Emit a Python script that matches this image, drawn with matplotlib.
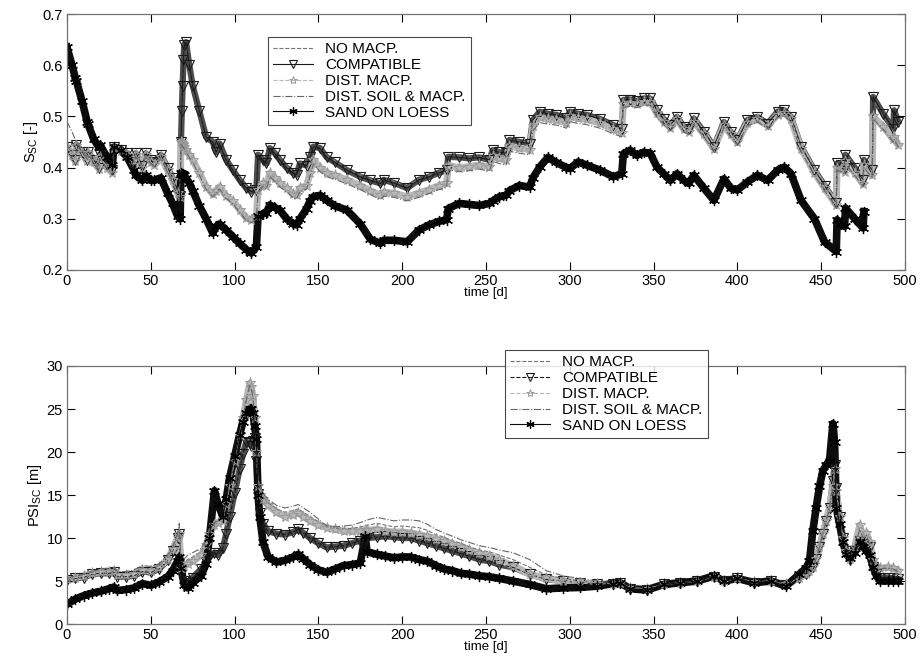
import numpy as np
import matplotlib
matplotlib.use('Agg')
import matplotlib.pyplot as plt

nan = np.nan

# ---- top panel: S_sc [-] ----
t_top = [0, 3, 5, 5.5, 9, 12, 12.5, 16, 19, 19.5,
         24, 27, 28, 32, 36, 40, 41, 45, 47, 50,
         52, 56, 60, 63, 66, 67.5, 68, 68.5, 69, 69.5,
         70, 71, 73, 75, 79, 83, 87, 89, 91, 95,
         99, 103, 107, 110, 113, 114, 117, 119, 121, 124,
         127, 131, 135, 137, 139, 143, 145, 147, 151, 155,
         160, 167, 175, 181, 187, 189, 195, 203, 210, 216,
         222, 226.5, 227.5, 234, 240, 246, 252, 254, 258, 262,
         264, 270, 276, 278, 282, 287, 292, 298, 300, 305,
         310, 318, 326, 331, 332, 336, 340, 344, 348, 352,
         356, 360, 364, 368, 371, 374, 380, 386, 392, 396,
         400, 406, 412, 418, 424, 428, 432, 438, 446, 452,
         459, 459.5, 462, 464, 464.5, 470, 475, 475.5, 480.5, 481,
         487, 493, 493.5, 496]

s_nomacp = [0.445, 0.43, 0.42, 0.445, 0.432, 0.418, 0.432, 0.418, 0.403, 0.427,
            0.408, 0.398, 0.44, 0.436, 0.43, 0.413, 0.43, 0.406, 0.43, 0.418,
            0.413, 0.427, 0.403, 0.383, 0.358, 0.348, 0.45, 0.50, 0.55, 0.60,
            0.63, 0.64, 0.598, 0.558, 0.508, 0.462, 0.452, 0.433, 0.448, 0.418,
            0.398, 0.38, 0.364, 0.357, 0.36, 0.427, 0.418, 0.41, 0.44, 0.43,
            0.418, 0.403, 0.392, 0.389, 0.41, 0.407, 0.422, 0.443, 0.44, 0.423,
            0.413, 0.398, 0.385, 0.378, 0.372, 0.378, 0.373, 0.363, 0.378, 0.385,
            0.392, 0.398, 0.423, 0.422, 0.42, 0.422, 0.418, 0.436, 0.432, 0.43,
            0.455, 0.452, 0.449, 0.494, 0.51, 0.506, 0.504, 0.498, 0.51, 0.506,
            0.504, 0.497, 0.485, 0.478, 0.533, 0.534, 0.531, 0.536, 0.536, 0.514,
            0.497, 0.485, 0.5, 0.482, 0.477, 0.497, 0.472, 0.444, 0.49, 0.472,
            0.456, 0.494, 0.5, 0.488, 0.51, 0.513, 0.5, 0.444, 0.398, 0.368,
            0.333, 0.41, 0.407, 0.402, 0.427, 0.402, 0.378, 0.417, 0.397, 0.535,
            0.50, 0.47, 0.47, 0.44]

s_compat = [0.44, 0.425, 0.415, 0.445, 0.43, 0.415, 0.43, 0.415, 0.40, 0.425,
            0.405, 0.395, 0.44, 0.435, 0.428, 0.41, 0.428, 0.403, 0.428, 0.415,
            0.41, 0.425, 0.40, 0.38, 0.355, 0.345, 0.45, 0.51, 0.56, 0.61,
            0.64, 0.645, 0.60, 0.56, 0.51, 0.46, 0.45, 0.43, 0.447, 0.415,
            0.395, 0.376, 0.36, 0.353, 0.357, 0.425, 0.415, 0.408, 0.438, 0.428,
            0.415, 0.40, 0.389, 0.386, 0.408, 0.404, 0.42, 0.441, 0.438, 0.42,
            0.41, 0.395, 0.382, 0.375, 0.369, 0.376, 0.37, 0.36, 0.376, 0.382,
            0.39, 0.395, 0.421, 0.42, 0.418, 0.42, 0.415, 0.434, 0.43, 0.428,
            0.454, 0.45, 0.447, 0.493, 0.509, 0.505, 0.503, 0.496, 0.509, 0.505,
            0.503, 0.495, 0.483, 0.476, 0.532, 0.533, 0.53, 0.535, 0.535, 0.512,
            0.495, 0.483, 0.499, 0.48, 0.475, 0.496, 0.47, 0.441, 0.489, 0.47,
            0.454, 0.493, 0.499, 0.486, 0.509, 0.512, 0.499, 0.441, 0.395, 0.365,
            0.33, 0.408, 0.405, 0.40, 0.425, 0.40, 0.376, 0.415, 0.395, 0.538,
            0.505, 0.476, 0.512, 0.49]

s_distmacp = [0.44, 0.425, 0.412, 0.442, 0.428, 0.412, 0.428, 0.41, 0.398, 0.42,
              0.40, 0.39, 0.438, 0.432, 0.425, 0.405, 0.425, 0.40, 0.425, 0.41,
              0.405, 0.42, 0.395, 0.375, 0.35, 0.342, 0.45, 0.448, 0.446, 0.444,
              0.44, 0.435, 0.425, 0.415, 0.39, 0.363, 0.348, 0.355, 0.363, 0.345,
              0.334, 0.318, 0.302, 0.298, 0.305, 0.357, 0.37, 0.365, 0.389, 0.38,
              0.369, 0.36, 0.348, 0.346, 0.36, 0.365, 0.39, 0.415, 0.40, 0.39,
              0.385, 0.376, 0.365, 0.355, 0.346, 0.352, 0.35, 0.343, 0.35, 0.357,
              0.365, 0.369, 0.404, 0.40, 0.402, 0.405, 0.401, 0.422, 0.418, 0.415,
              0.442, 0.438, 0.435, 0.482, 0.498, 0.495, 0.493, 0.487, 0.50, 0.496,
              0.494, 0.487, 0.475, 0.468, 0.525, 0.527, 0.524, 0.529, 0.529, 0.506,
              0.49, 0.478, 0.494, 0.475, 0.47, 0.49, 0.465, 0.437, 0.483, 0.465,
              0.45, 0.487, 0.494, 0.482, 0.503, 0.507, 0.494, 0.437, 0.39, 0.36,
              0.327, 0.40, 0.397, 0.392, 0.412, 0.39, 0.368, 0.405, 0.385, 0.50,
              0.48, 0.455, 0.46, 0.445]

s_distsoil = [0.49, 0.47, 0.455, 0.45, 0.435, 0.418, 0.425, 0.41, 0.396, 0.418,
              0.398, 0.388, 0.435, 0.43, 0.422, 0.403, 0.422, 0.398, 0.422, 0.408,
              0.402, 0.418, 0.393, 0.372, 0.347, 0.338, 0.445, 0.443, 0.441, 0.439,
              0.436, 0.43, 0.42, 0.41, 0.385, 0.358, 0.343, 0.35, 0.358, 0.34,
              0.329, 0.313, 0.297, 0.293, 0.30, 0.35, 0.363, 0.358, 0.382, 0.373,
              0.362, 0.353, 0.341, 0.339, 0.353, 0.358, 0.383, 0.407, 0.392, 0.382,
              0.377, 0.368, 0.357, 0.347, 0.338, 0.344, 0.342, 0.335, 0.342, 0.349,
              0.357, 0.361, 0.396, 0.392, 0.394, 0.397, 0.393, 0.412, 0.408, 0.405,
              0.432, 0.428, 0.425, 0.472, 0.488, 0.485, 0.483, 0.477, 0.49, 0.486,
              0.484, 0.477, 0.466, 0.46, 0.518, 0.52, 0.517, 0.522, 0.522, 0.499,
              0.484, 0.472, 0.488, 0.47, 0.465, 0.485, 0.46, 0.432, 0.478, 0.46,
              0.445, 0.482, 0.489, 0.477, 0.498, 0.502, 0.489, 0.432, 0.385, 0.355,
              0.322, 0.395, 0.392, 0.387, 0.407, 0.385, 0.363, 0.40, 0.38, 0.495,
              0.475, 0.45, 0.455, 0.44]

s_sand = [0.635, 0.60, 0.575, 0.57, 0.53, 0.49, 0.485, 0.455, 0.44, 0.445,
          0.42, 0.405, 0.44, 0.435, 0.42, 0.395, 0.385, 0.375, 0.385, 0.375,
          0.375, 0.38, 0.35, 0.33, 0.305, 0.30, 0.39, 0.388, 0.387, 0.386,
          0.385, 0.38, 0.37, 0.355, 0.325, 0.30, 0.272, 0.285, 0.29, 0.278,
          0.265, 0.252, 0.24, 0.233, 0.245, 0.305, 0.31, 0.312, 0.327, 0.322,
          0.317, 0.30, 0.29, 0.288, 0.30, 0.32, 0.335, 0.343, 0.346, 0.336,
          0.325, 0.317, 0.29, 0.26, 0.252, 0.258, 0.258, 0.255, 0.278, 0.288,
          0.295, 0.298, 0.32, 0.33, 0.328, 0.326, 0.33, 0.335, 0.343, 0.346,
          0.355, 0.365, 0.362, 0.38, 0.401, 0.42, 0.41, 0.40, 0.398, 0.411,
          0.405, 0.395, 0.382, 0.388, 0.427, 0.434, 0.424, 0.43, 0.428, 0.401,
          0.388, 0.375, 0.388, 0.375, 0.369, 0.385, 0.36, 0.336, 0.378, 0.36,
          0.356, 0.372, 0.385, 0.375, 0.395, 0.401, 0.388, 0.336, 0.30, 0.255,
          0.236, 0.298, 0.29, 0.285, 0.321, 0.30, 0.282, 0.314, nan, nan,
          nan, nan, nan, nan]

# ---- bottom panel: PSI_sc [m] ----
t_bot = [0, 5, 10, 15, 20, 25, 28, 30, 35, 40,
         45, 50, 55, 60, 63, 66, 67, 68, 70, 72,
         75, 80, 83, 85, 88, 90, 93, 95, 97, 100,
         103, 105, 107, 109, 110, 111, 112, 113, 114, 115,
         117, 120, 125, 130, 135, 138, 141, 145, 150, 155,
         160, 165, 170, 175, 178, 179, 185, 190, 195, 200,
         205, 210, 215, 220, 225, 230, 235, 240, 246, 252,
         258, 266, 276, 286, 296, 306, 316, 326, 330, 336,
         346, 356, 366, 376, 386, 392, 400, 410, 420, 429,
         437, 441, 443, 445, 447, 449, 451, 453, 455, 457,
         458, 459, 461, 463, 465, 467, 470, 473, 475, 477,
         479, 481, 483, 485, 490, 493, 496]

p_nomacp = [5.25, 5.5, 5.7, 6.0, 6.2, 6.3, 6.4, 5.9, 5.9, 6.0,
            6.5, 6.4, 6.8, 7.7, 8.8, 10.2, 11.0, 6.8, 7.2, 7.5,
            7.8, 8.4, 9.5, 10.6, 11.6, 11.9, 12.2, 14.1, 16.1, 19.1,
            22.1, 24.1, 26.0, 27.9, 27.4, 26.4, 24.0, 20.2, 16.4, 15.5,
            14.8, 14.1, 13.4, 13.0, 13.2, 13.4, 13.0, 12.5, 11.9, 11.3,
            11.1, 11.1, 11.1, 11.3, 11.4, 11.5, 11.7, 11.5, 11.3, 11.4,
            11.3, 11.2, 10.9, 10.4, 10.1, 9.7, 9.4, 9.0, 8.6, 8.4,
            8.0, 7.5, 6.6, 5.7, 5.3, 5.0, 4.8, 4.7, 4.8, 4.2,
            4.1, 4.6, 4.8, 5.0, 5.5, 5.0, 5.3, 4.9, 5.0, 4.6,
            5.4, 5.8, 6.2, 6.6, 7.6, 8.9, 10.5, 12.0, 13.5, 16.0,
            18.0, 15.5, 12.4, 10.0, 8.5, 7.6, 9.0, 11.2, 10.0, 10.4,
            9.4, 7.4, 6.6, 6.5, 6.5, 6.4, 6.1]

p_compat = [5.1, 5.3, 5.4, 5.8, 5.9, 5.9, 6.0, 5.5, 5.5, 5.6,
            6.1, 6.0, 6.4, 7.4, 8.5, 10.0, 10.5, 6.2, 5.0, 4.8,
            5.4, 6.4, 7.2, 7.8, 8.3, 8.0, 8.8, 10.5, 12.4, 15.2,
            18.0, 19.8, 21.2, 21.0, 20.7, 21.3, 21.6, 18.9, 15.1, 12.9,
            11.6, 10.8, 10.5, 10.4, 10.7, 11.0, 10.6, 10.0, 9.4, 8.9,
            9.0, 9.1, 9.4, 9.7, 9.9, 10.0, 10.1, 10.2, 10.1, 10.0,
            10.0, 9.7, 9.4, 9.1, 8.8, 8.5, 8.2, 7.9, 7.5, 7.3,
            6.9, 6.6, 5.8, 5.2, 5.0, 4.8, 4.6, 4.7, 4.8, 4.1,
            4.0, 4.6, 4.8, 5.0, 5.5, 5.0, 5.3, 4.8, 5.0, 4.5,
            5.4, 5.8, 6.2, 6.6, 7.6, 8.9, 10.5, 12.0, 13.5, 16.6,
            18.5, 15.8, 12.4, 10.0, 8.5, 7.5, 8.5, 9.7, 9.3, 8.9,
            8.9, 6.6, 5.8, 5.4, 5.4, 5.3, 5.2]

p_distmacp = [5.2, 5.4, 5.6, 5.9, 6.1, 6.1, 6.2, 5.7, 5.7, 5.8,
              6.3, 6.2, 6.6, 7.5, 8.7, 10.0, 10.5, 6.5, 6.8, 7.0,
              7.3, 8.0, 9.2, 10.5, 11.5, 11.8, 12.0, 14.0, 16.0, 19.0,
              22.0, 24.0, 26.0, 28.0, 27.5, 26.5, 24.0, 20.0, 16.0, 15.0,
              14.5, 13.8, 13.0, 12.5, 12.7, 12.9, 12.5, 12.0, 11.5, 11.2,
              11.0, 10.8, 10.8, 10.8, 10.9, 10.9, 11.0, 10.8, 10.7, 10.7,
              10.6, 10.4, 10.2, 9.9, 9.6, 9.3, 9.0, 8.6, 8.2, 7.9,
              7.4, 6.8, 5.8, 5.3, 5.0, 4.8, 4.6, 4.7, 4.8, 4.2,
              4.1, 4.6, 4.8, 5.0, 5.5, 5.0, 5.3, 4.9, 5.0, 4.6,
              5.4, 5.8, 6.2, 6.6, 7.6, 8.9, 10.5, 12.0, 13.5, 16.0,
              18.0, 15.5, 12.4, 10.0, 8.5, 7.6, 9.0, 11.5, 10.0, 10.6,
              9.5, 7.5, 6.6, 6.5, 6.6, 6.5, 6.2]

p_distsoil = [5.3, 5.6, 5.8, 6.1, 6.4, 6.5, 6.6, 6.1, 6.1, 6.3,
              6.8, 6.7, 7.0, 8.0, 9.0, 10.5, 11.7, 7.0, 7.6, 8.0,
              8.3, 8.8, 9.8, 10.8, 11.8, 12.0, 12.4, 14.2, 16.2, 19.2,
              22.2, 24.2, 26.0, 27.8, 27.3, 26.3, 24.0, 20.5, 16.8, 16.0,
              15.2, 14.5, 13.8, 13.5, 13.7, 13.9, 13.5, 13.0, 12.2, 11.4,
              11.3, 11.4, 11.5, 11.8, 12.0, 12.1, 12.4, 12.2, 12.0, 12.1,
              12.1, 12.0, 11.6, 11.0, 10.6, 10.2, 9.8, 9.5, 9.1, 8.9,
              8.6, 8.3, 7.5, 6.2, 5.6, 5.3, 5.0, 4.8, 4.8, 4.2,
              4.1, 4.6, 4.8, 5.0, 5.5, 5.0, 5.3, 4.9, 5.0, 4.6,
              5.4, 5.8, 6.2, 6.6, 7.6, 8.9, 10.5, 12.0, 13.5, 16.0,
              18.0, 15.5, 12.4, 10.0, 8.5, 7.6, 9.0, 11.0, 10.0, 10.3,
              9.3, 7.4, 6.5, 6.4, 6.5, 6.4, 6.1]

p_sand = [2.3, 2.9, 3.3, 3.6, 3.8, 4.1, 4.3, 3.9, 4.0, 4.2,
          4.7, 4.5, 4.9, 5.5, 6.2, 7.3, 7.8, 6.5, 4.5, 4.2,
          4.8, 5.6, 7.0, 10.0, 15.5, 14.0, 12.5, 14.5, 17.0, 19.5,
          22.0, 23.5, 24.5, 25.0, 25.0, 24.5, 23.0, 21.5, 15.0, 12.5,
          9.5, 7.8, 7.2, 7.4, 7.8, 8.1, 7.6, 6.9, 6.3, 6.0,
          6.4, 6.8, 6.9, 7.1, 10.2, 8.4, 8.1, 7.9, 7.7, 7.8,
          7.8, 7.5, 7.3, 6.8, 6.4, 6.2, 5.9, 5.8, 5.6, 5.5,
          5.3, 5.0, 4.6, 4.1, 4.2, 4.25, 4.4, 4.7, 4.8, 4.1,
          3.95, 4.6, 4.8, 5.0, 5.6, 5.0, 5.3, 4.8, 5.0, 4.4,
          5.8, 6.5, 7.3, 10.8, 13.5, 16.0, 17.8, 18.5, 19.0, 23.3,
          21.2, 13.5, 11.6, 9.5, 8.1, 7.7, 8.3, 9.5, 9.0, 8.5,
          8.0, 6.6, 5.6, 5.0, 5.0, 5.0, 5.0]

labels = ['NO MACP.', 'COMPATIBLE', 'DIST. MACP.', 'DIST. SOIL & MACP.', 'SAND ON LOESS']

plt.rcParams['font.family'] = ['Liberation Sans', 'DejaVu Sans']
plt.rcParams['font.size'] = 10

asterisk = (6, 2, 0)


def draw(ax, t, series, compat_ls):
    nm, cp, dm, ds, sl = series
    # the original has a marker at every output step, so the curves read as
    # thick speckled bands -> put a wide band under each marked curve
    ax.plot(t, cp, color='0.3', lw=4.5, solid_joinstyle='round', zorder=1)
    ax.plot(t, dm, color='0.72', lw=5, solid_joinstyle='round', zorder=1.1)
    ax.plot(t, sl, color='0.05', lw=5.5, solid_joinstyle='round', zorder=1.2)

    ax.plot(t, nm, ls='--', color='0.45', lw=0.8, label=labels[0], zorder=2)
    ax.plot(t, cp, ls=compat_ls, color='0.1', lw=0.8, marker='v', ms=7,
            mfc='none', mec='0.1', mew=0.8, label=labels[1], zorder=2)
    ax.plot(t, dm, ls='--', color='0.72', lw=0.8, marker='*', ms=8,
            mfc='none', mec='0.6', mew=0.7, label=labels[2], zorder=2.1)
    ax.plot(t, ds, ls='-.', color='0.4', lw=0.8, label=labels[3], zorder=2.1)
    ax.plot(t, sl, ls='-', color='0.05', lw=0.8, marker=asterisk, ms=8,
            mec='0.0', mew=0.9, label=labels[4], zorder=2.2)
    ax.set_xlim(0, 500)
    ax.set_xticks(np.arange(0, 501, 50))
    ax.tick_params(direction='in', top=True, right=True, length=6,
                   width=0.8, labelsize=10.5, pad=3)
    for sp in ax.spines.values():
        sp.set_color('0.45')
        sp.set_linewidth(0.9)
    ax.set_xlabel('time [d]', fontsize=9.5, labelpad=-1)


fig = plt.figure(figsize=(9.24, 6.64), dpi=100)
ax1 = fig.add_axes([0.0725, 0.5934, 0.9069, 0.3855])
ax2 = fig.add_axes([0.0725, 0.0602, 0.9069, 0.3886])

draw(ax1, t_top, [s_nomacp, s_compat, s_distmacp, s_distsoil, s_sand], '-')
ax1.set_ylim(0.2, 0.7)
ax1.set_yticks([0.2, 0.3, 0.4, 0.5, 0.6, 0.7])
ax1.set_ylabel('S$_{\\mathregular{SC}}$ [-]', fontsize=10.5, labelpad=2)

draw(ax2, t_bot, [p_nomacp, p_compat, p_distmacp, p_distsoil, p_sand], '--')
ax2.set_ylim(0, 30)
ax2.set_yticks(np.arange(0, 31, 5))
ax2.set_ylabel('PSI$_{\\mathregular{SC}}$ [m]', fontsize=10.5, labelpad=2)

leg_kw = dict(loc='upper left', fontsize=11, frameon=True, fancybox=False,
              edgecolor='0.1', handlelength=2.6, handletextpad=0.8,
              labelspacing=0.12, borderpad=0.35, borderaxespad=0)
l1 = ax1.legend(bbox_to_anchor=(268 / 924, 1 - 37 / 664),
                bbox_transform=fig.transFigure, **leg_kw)
l2 = ax2.legend(bbox_to_anchor=(505 / 924, 1 - 350 / 664),
                bbox_transform=fig.transFigure, **leg_kw)
for lg in (l1, l2):
    lg.get_frame().set_linewidth(0.8)
    lg.set_zorder(10)
for lh in l1.legend_handles + l2.legend_handles:
    lh.set_markersize(6)

fig.savefig('out.png', dpi=100)
